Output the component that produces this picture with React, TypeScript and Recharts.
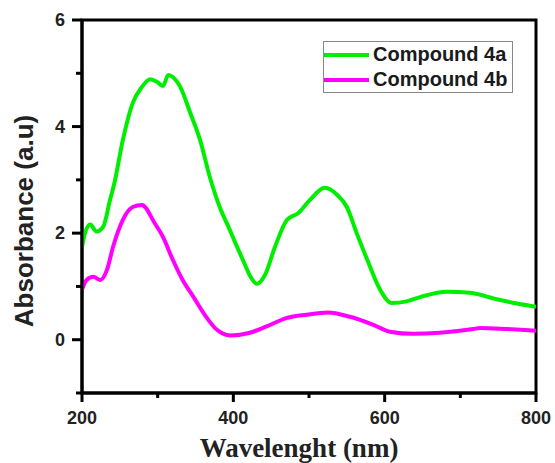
import * as React from 'react'
import {
	LineChart,
	Line,
	XAxis,
	YAxis,
	Legend,
	ReferenceArea,
} from 'recharts'

// wavelength (nm) / absorbance
const wavelength4a = [
	200, 204, 211, 219, 228, 237, 243, 254, 267, 279, 290, 299, 307, 314, 320,
	330, 343, 356, 369, 382, 395, 405, 415, 422, 431, 442, 455, 471, 486, 501,
	521, 537, 550, 563, 577, 594, 609, 629, 647, 682, 713, 748, 775, 800,
]
const absorbance4a = [
	1.74, 2.0, 2.16, 2.03, 2.12, 2.62, 2.95, 3.75, 4.44, 4.74, 4.89, 4.84, 4.76,
	4.97, 4.93, 4.74, 4.26, 3.75, 3.05, 2.49, 2.07, 1.74, 1.42, 1.2, 1.05, 1.22,
	1.74, 2.25, 2.38, 2.62, 2.85, 2.72, 2.49, 2.0, 1.5, 0.94, 0.69, 0.72, 0.8,
	0.9, 0.88, 0.76, 0.68, 0.62,
]
const wavelength4b = [
	200, 206, 215, 224, 233, 241, 254, 267, 279, 296, 307, 320, 333, 347, 365,
	378, 396, 422, 444, 471, 497, 525, 554, 585, 607, 637, 673, 717, 726, 762,
	800,
]
const absorbance4b = [
	0.94, 1.12, 1.18, 1.12, 1.31, 1.74, 2.25, 2.49, 2.53, 2.19, 1.93, 1.5, 1.12,
	0.81, 0.41, 0.19, 0.08, 0.13, 0.25, 0.41, 0.47, 0.51, 0.43, 0.28, 0.15, 0.11,
	0.13, 0.2, 0.22, 0.2, 0.17,
]

const xTicks = [200, 300, 400, 500, 600, 700, 800]
const xLabels = [200, 400, 600, 800]
const yTicks = [-1, 0, 1, 2, 3, 4, 5, 6]
const yLabels = [0, 2, 4, 6]

const series4a = wavelength4a.map((x, i) => ({ x, y: absorbance4a[i] }))
const series4b = wavelength4b.map((x, i) => ({ x, y: absorbance4b[i] }))

const sans = '"Liberation Sans", Arial, sans-serif'
const serif = '"Liberation Serif", "Times New Roman", serif'

const XTick = ({ x, y, payload }: any) => {
	const major = xLabels.includes(payload.value)
	return (
		<g>
			<line
				x1={x}
				x2={x}
				y1={y}
				y2={y + (major ? 9 : 5)}
				stroke="#000"
				strokeWidth={3}
			/>
			{major && (
				<text
					x={x}
					y={y + 31}
					textAnchor="middle"
					fontFamily={sans}
					fontWeight="bold"
					fontSize={18}
					fill="#222"
				>
					{payload.value}
				</text>
			)}
		</g>
	)
}

const YTick = ({ x, y, payload }: any) => {
	const major = yLabels.includes(payload.value)
	return (
		<g>
			<line
				x1={x - (major ? 10 : 6)}
				x2={x}
				y1={y}
				y2={y}
				stroke="#000"
				strokeWidth={3}
			/>
			{major && (
				<text
					x={x - 17}
					y={y + 6}
					textAnchor="end"
					fontFamily={sans}
					fontWeight="bold"
					fontSize={18}
					fill="#222"
				>
					{payload.value}
				</text>
			)}
		</g>
	)
}

const LegendBox = ({ payload }: any) => (
	<div
		style={{
			border: '1px solid #888',
			background: '#fff',
			width: 188,
			height: 50,
			boxSizing: 'content-box',
		}}
	>
		{(payload || []).map((p: any) => (
			<div
				key={p.value}
				style={{
					display: 'flex',
					alignItems: 'center',
					height: 25,
					fontFamily: sans,
					fontWeight: 'bold',
					fontSize: 20,
					color: '#1a1a1a',
				}}
			>
				<span
					style={{
						display: 'inline-block',
						width: 45,
						height: 4,
						background: p.color,
						marginRight: 4,
					}}
				/>
				{p.value}
			</div>
		))}
	</div>
)

export default function App() {
	return (
		<div
			style={{
				position: 'absolute',
				left: 0,
				top: 0,
				width: 555,
				height: 463,
				background: '#fff',
			}}
		>
			<LineChart
				width={555}
				height={463}
				margin={{ top: 20, right: 19, bottom: 0, left: 0 }}
			>
				<ReferenceArea
					x1={200}
					x2={800}
					y1={-1}
					y2={6}
					fill="none"
					stroke="#000"
					strokeWidth={3}
				/>
				<XAxis
					dataKey="x"
					type="number"
					domain={[200, 800]}
					ticks={xTicks}
					interval={0}
					height={70}
					tickSize={0}
					tickMargin={0}
					tickLine={false}
					tick={<XTick />}
					axisLine={{ stroke: '#000', strokeWidth: 3 }}
					allowDataOverflow
				/>
				<YAxis
					type="number"
					domain={[-1, 6]}
					ticks={yTicks}
					interval={0}
					width={82}
					tickSize={0}
					tickMargin={0}
					tickLine={false}
					tick={<YTick />}
					axisLine={{ stroke: '#000', strokeWidth: 3 }}
					allowDataOverflow
				/>
				<Legend
					layout="vertical"
					align="center"
					verticalAlign="middle"
					content={<LegendBox />}
					wrapperStyle={{
						position: 'absolute',
						left: 323,
						top: 41,
						width: 190,
						height: 52,
					}}
				/>
				<Line
					data={series4a}
					dataKey="y"
					name="Compound 4a"
					type="monotone"
					stroke="#00ee00"
					strokeWidth={4}
					dot={false}
					isAnimationActive={false}
				/>
				<Line
					data={series4b}
					dataKey="y"
					name="Compound 4b"
					type="monotone"
					stroke="#ff00ff"
					strokeWidth={4}
					dot={false}
					isAnimationActive={false}
				/>
			</LineChart>
			<div
				style={{
					position: 'absolute',
					left: 0,
					top: 0,
					pointerEvents: 'none',
				}}
			>
				<svg width={555} height={463}>
					<text
						transform="translate(33, 221) rotate(-90)"
						textAnchor="middle"
						fontFamily={sans}
						fontWeight="bold"
						fontSize={26}
						fill="#222"
					>
						Absorbance (a.u)
					</text>
					<text
						x={299}
						y={457}
						textAnchor="middle"
						fontFamily={serif}
						fontWeight="bold"
						fontSize={27}
						fill="#222"
					>
						Wavelenght (nm)
					</text>
				</svg>
			</div>
		</div>
	)
}
